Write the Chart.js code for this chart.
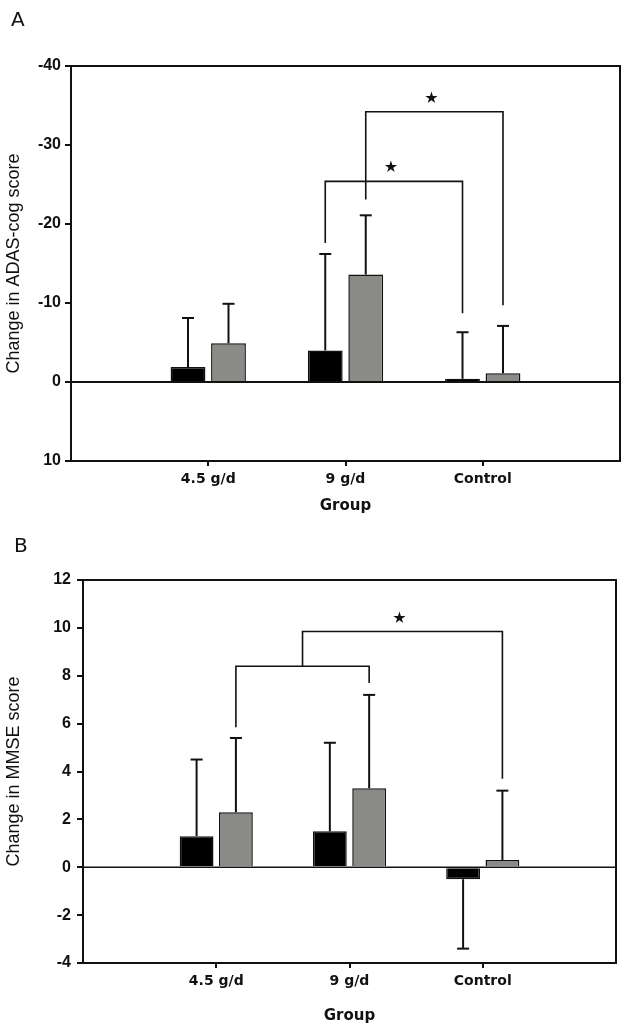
<!DOCTYPE html>
<html>
<head>
<meta charset="utf-8">
<script src="https://cdn.jsdelivr.net/npm/chart.js@4.4.1/dist/chart.umd.min.js"></script>
<style>
  body { margin: 0; background: #fff; width: 636px; height: 1031px; position: relative; overflow: hidden; }
  canvas { position: absolute; left: 0; }
  .tag { position: absolute; font: 20px "DejaVu Sans", sans-serif; color: #111; line-height: 1; }
</style>
</head>
<body>
<canvas id="chartA" width="636" height="520" style="top:0"></canvas>
<canvas id="chartB" width="636" height="511" style="top:520px"></canvas>
<div class="tag" style="left:11px;top:9px">A</div>
<div class="tag" style="left:14px;top:535px">B</div>
<script>
const groups = ['4.5 g/d', '9 g/d', 'Control'];

// ---------- Panel A: ADAS-cog (axis reversed, negative = better) ----------
const adasBlack = [-1.9, -4.0, -0.4];
const adasGray = [-4.9, -13.6, -1.1];
const adasBlackSd = [6.2, 12.2, 5.9];
const adasGraySd = [5.0, 7.5, 6.0];
const adasMin = -40, adasMax = 10, adasStep = 10;
// bracket legs: [dataset, group index], y values in data units
const adasBrackets = [
  { from: [0, 1], to: [0, 2], y: -25.4, fromEnd: -17.6, toEnd: -8.7, star: true },
  { from: [1, 1], to: [1, 2], y: -34.2, fromEnd: -23.1, toEnd: -9.7, star: true }
];

// ---------- Panel B: MMSE ----------
const mmseBlack = [1.3, 1.5, -0.5];
const mmseGray = [2.3, 3.3, 0.3];
const mmseBlackSd = [3.2, 3.7, 2.9];
const mmseGraySd = [3.1, 3.9, 2.9];
const mmseMin = -4, mmseMax = 12, mmseStep = 2;
const mmseBrackets = [
  { from: [1, 0], to: [1, 1], y: 8.4, fromEnd: 5.85, toEnd: 7.7, star: false },
  { from: 'mid0', to: [1, 2], y: 9.85, fromEnd: 8.4, toEnd: 3.7, star: true }
];

const ink = '#111';
const grayFill = '#8a8a86';

// pad with an empty slot on each side so the groups sit at 1..3 of a 0..4 axis
const pad = arr => [null, ...arr, null];

function line(ctx, pts) {
  ctx.beginPath();
  ctx.moveTo(pts[0][0], pts[0][1]);
  for (let i = 1; i < pts.length; i++) ctx.lineTo(pts[i][0], pts[i][1]);
  ctx.stroke();
}

const extras = {
  id: 'extras',
  afterDatasetsDraw(chart, args, opts) {
    const { ctx, chartArea: a, scales: { y } } = chart;
    ctx.save();
    ctx.strokeStyle = ink;
    ctx.lineCap = 'butt';

    // box + zero line
    ctx.lineWidth = 2;
    ctx.strokeRect(a.left, a.top, a.right - a.left, a.bottom - a.top);
    const y0 = y.getPixelForValue(0);
    ctx.lineWidth = opts.zeroWidth;
    line(ctx, [[a.left, y0], [a.right, y0]]);

    // one-sided error bars
    ctx.lineWidth = 2;
    opts.sds.forEach((sd, di) => {
      const meta = chart.getDatasetMeta(di);
      const vals = chart.data.datasets[di].data;
      meta.data.forEach((bar, i) => {
        if (vals[i] == null) return;
        const v = vals[i];
        const end = y.getPixelForValue(v + Math.sign(v) * sd[i]);
        line(ctx, [[bar.x, bar.y], [bar.x, end]]);
        line(ctx, [[bar.x - 6, end], [bar.x + 6, end]]);
      });
    });

    // significance brackets
    ctx.lineWidth = 1.6;
    const mids = [];
    opts.brackets.forEach(b => {
      const xOf = ref => {
        if (ref === 'mid0') return mids[0];
        return chart.getDatasetMeta(ref[0]).data[ref[1] + 1].x;
      };
      const x1 = xOf(b.from), x2 = xOf(b.to);
      const yl = y.getPixelForValue(b.y);
      line(ctx, [[x1, y.getPixelForValue(b.fromEnd)], [x1, yl], [x2, yl], [x2, y.getPixelForValue(b.toEnd)]]);
      mids.push((x1 + x2) / 2);
      if (b.star) {
        ctx.fillStyle = ink;
        ctx.font = '16px "DejaVu Sans"';
        ctx.textAlign = 'center';
        ctx.textBaseline = 'middle';
        ctx.fillText('\u2605', (x1 + x2) / 2 - 3, yl - 13);
      }
    });
    ctx.restore();
  }
};

function makeChart(id, o) {
  return new Chart(document.getElementById(id), {
    type: 'bar',
    data: {
      labels: pad(groups).map(g => g || ''),
      datasets: [
        { data: pad(o.black), backgroundColor: '#000', borderColor: ink, borderWidth: 1.5,
          barPercentage: 0.86, categoryPercentage: 0.59 },
        { data: pad(o.gray), backgroundColor: grayFill, borderColor: ink, borderWidth: 1.5,
          barPercentage: 0.86, categoryPercentage: 0.59 }
      ]
    },
    options: {
      responsive: false,
      animation: false,
      layout: { padding: { top: o.padTop, right: o.padRight, left: 0, bottom: 0 } },
      plugins: {
        legend: { display: false },
        tooltip: { enabled: false },
        extras: { sds: [pad(o.blackSd), pad(o.graySd)], brackets: o.brackets, zeroWidth: o.zeroWidth }
      },
      scales: {
        x: {
          type: 'category',
          offset: false,
          border: { color: ink, width: 2 },
          grid: {
            offset: false, drawOnChartArea: false, tickLength: 5, lineWidth: 2,
            color: c => (c.index > 0 && c.index <= groups.length) ? ink : 'rgba(0,0,0,0)'
          },
          ticks: { font: { family: 'DejaVu Sans', size: 14, weight: 'bold' }, color: ink, padding: 5,
            maxRotation: 0, autoSkip: false },
          title: { display: true, text: 'Group', font: { family: 'DejaVu Sans', size: 15, weight: 'bold' }, color: ink,
            padding: { top: 0, bottom: o.groupPad } },
          afterFit: s => { s.height = o.xHeight; }
        },
        y: {
          reverse: o.reverse,
          min: o.min,
          max: o.max,
          border: { color: ink, width: 2 },
          grid: { drawOnChartArea: false, tickLength: 6, lineWidth: 2, color: ink },
          ticks: { stepSize: o.step, font: { family: 'Liberation Sans', size: 16, weight: 'bold' }, color: ink,
            padding: o.tickPad },
          title: { display: true, text: o.yTitle, font: { family: 'Liberation Sans', size: 18 }, color: ink,
            padding: { top: 3, bottom: 0 } },
          afterFit: s => { s.width = o.yWidth; }
        }
      }
    },
    plugins: [extras]
  });
}

makeChart('chartA', {
  black: adasBlack, gray: adasGray, blackSd: adasBlackSd, graySd: adasGraySd,
  brackets: adasBrackets, reverse: true, min: adasMin, max: adasMax, step: adasStep,
  yTitle: 'Change in ADAS-cog score', padTop: 66, padRight: 16, yWidth: 71, xHeight: 59,
  groupPad: 5, tickPad: 4, zeroWidth: 2
});

makeChart('chartB', {
  black: mmseBlack, gray: mmseGray, blackSd: mmseBlackSd, graySd: mmseGraySd,
  brackets: mmseBrackets, reverse: false, min: mmseMin, max: mmseMax, step: mmseStep,
  yTitle: 'Change in MMSE score', padTop: 60, padRight: 20, yWidth: 83, xHeight: 68,
  groupPad: 6, tickPad: 6, zeroWidth: 1.5
});
</script>
</body>
</html>
